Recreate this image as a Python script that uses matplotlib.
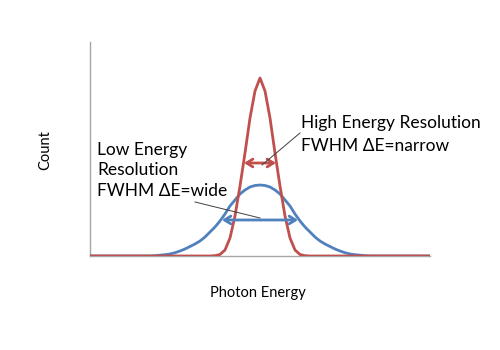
import matplotlib
matplotlib.use("Agg")
import matplotlib.pyplot as plt

plt.rcParams['font.family'] = ['Lato', 'DejaVu Sans']

# Photon energy (arbitrary units, 0 = line centre) and counts for each detector
red_energy = [-17, -5.0, -4.5, -4.0, -3.5, -3.0, -2.5, -2.0, -1.5, -1.0, -0.5, 0.0,
              0.5, 1.0, 1.5, 2.0, 2.5, 3.0, 3.5, 4.0, 4.5, 5.0, 17]
red_count = [0, 0, 0.3, 1.5, 6, 18, 40, 70, 103, 138, 165, 178,
             165, 138, 103, 70, 40, 18, 6, 1.5, 0.3, 0, 0]

blue_energy = [-17, -11.0, -10.5, -10.0, -9.5, -9.0, -8.5, -8.0, -7.5, -7.0, -6.5,
               -6.0, -5.5, -5.0, -4.5, -4.0, -3.5, -3.0, -2.5, -2.0, -1.5, -1.0,
               -0.5, 0.0, 0.5, 1.0, 1.5, 2.0, 2.5, 3.0, 3.5, 4.0, 4.5, 5.0, 5.5,
               6.0, 6.5, 7.0, 7.5, 8.0, 8.5, 9.0, 9.5, 10.0, 10.5, 11.0, 17]
blue_count = [0, 0, 0.3, 0.8, 1.3, 2, 3.3, 5, 7, 9.5, 12,
              15, 19, 24, 29, 35, 42, 50, 56, 62, 66, 69,
              70.5, 71, 70.5, 69, 66, 62, 56, 50, 42, 35, 29, 24, 19,
              15, 12, 9.5, 7, 5, 3.3, 2, 1.3, 0.8, 0.3, 0, 0]

# FWHM markers: (half-width, height)
narrow_fwhm = (1.6, 93)
wide_fwhm = (3.8, 36)

high_label = ["High Energy Resolution", "FWHM \u0394E=narrow"]
low_label = ["Low Energy", "Resolution", "FWHM \u0394E=wide"]

RED = "#C0504D"
BLUE = "#4F81BD"
GRID = "#A6A6A6"

fig = plt.figure(figsize=(5, 3.5), dpi=100)
ax = fig.add_axes([0.18, 0.2686, 0.68, 0.6114])
ax.set_xlim(-17, 17)
ax.set_ylim(0, 214)

ax.plot(blue_energy, blue_count, color=BLUE, lw=2.0, solid_capstyle='butt',
        solid_joinstyle='round', zorder=3)
ax.plot(red_energy, red_count, color=RED, lw=2.0, solid_capstyle='butt',
        solid_joinstyle='round', zorder=4)

for (hw, h), c in [(narrow_fwhm, RED), (wide_fwhm, BLUE)]:
    ax.annotate("", xy=(-hw, h), xytext=(hw, h),
                arrowprops=dict(arrowstyle="<->,head_length=0.45,head_width=0.28",
                                color=c, lw=2.0, shrinkA=0, shrinkB=0),
                zorder=5)

# leader lines from labels to arrows
ax.plot([4.0, 0.2], [123, 91], color="#404040", lw=0.7, zorder=6)
ax.plot([-6.5, 0.0], [54, 38], color="#404040", lw=0.7, zorder=6)

fs = 12.5
ax.text(4.1, 128, high_label[0], fontsize=fs, va='baseline', ha='left', color='black')
ax.text(4.1, 105, high_label[1], fontsize=fs, va='baseline', ha='left', color='black')
for txt, yb in zip(low_label, [101, 81, 60]):
    ax.text(-16.3, yb, txt, fontsize=fs, va='baseline', ha='left', color='black')

for s in ['top', 'right']:
    ax.spines[s].set_visible(False)
for s in ['left', 'bottom']:
    ax.spines[s].set_color(GRID)
    ax.spines[s].set_linewidth(1.0)
ax.set_xticks([])
ax.set_yticks([])

fig.text(45 / 500, 1 - 150 / 350, "Count", rotation=90, fontsize=10.5,
         ha='center', va='center')
fig.text(258 / 500, 1 - 293 / 350, "Photon Energy", fontsize=10.5,
         ha='center', va='center')

fig.savefig("out.png", dpi=100)
